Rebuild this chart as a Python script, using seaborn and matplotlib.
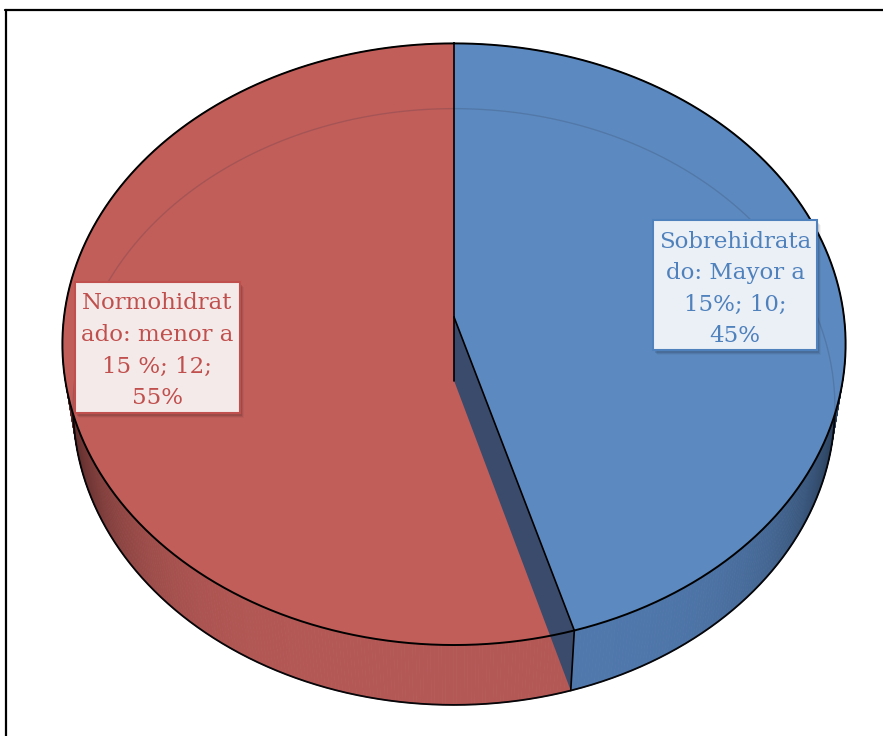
import numpy as np
import matplotlib
matplotlib.use("Agg")
import matplotlib.pyplot as plt
import seaborn as sns
from matplotlib.patches import Polygon, Rectangle

# ---------------- data ----------------
categories = ["Sobrehidratado: Mayor a 15%", "Normohidratado: menor a 15 %"]
counts = [10, 12]
percents = ["45%", "55%"]
label_lines = [
    ["Sobrehidrata", "do: Mayor a", "15%; 10;", "45%"],
    ["Normohidrat", "ado: menor a", "15 %; 12;", "55%"],
]

# ---------------- style ----------------
sns.set_theme(style="white")
plt.rcParams["font.family"] = ["DejaVu Serif", "DejaVu Sans"]

top_colors = ["#5C8AC0", "#C15E5A"]
rim_colors = [np.array([80, 120, 172]) / 255, np.array([180, 88, 85]) / 255]
text_colors = ["#4F81BD", "#C0504D"]
box_fill = ["#EBF0F6", "#F5EAEA"]
wall_color = "#3A4B6C"

# ---------------- projection (3D tilted pie with perspective) ----------------
CX, CY = 454.0, 317.0
SCALE = 390.0
SA = 0.765
CA = np.sqrt(1 - SA ** 2)
DIST = 7.12
DEPTH = 0.26


def proj(theta_deg, hgt=0.0, r=1.0):
    t = np.radians(np.asarray(theta_deg, dtype=float))
    X = r * np.sin(t)
    W = -r * np.cos(t)
    yc = W * SA - hgt * CA
    zc = W * CA + hgt * SA
    s = DIST / (DIST - zc)
    return CX + SCALE * s * X, CY + SCALE * s * yc


fig = plt.figure(figsize=(8.83, 7.36), dpi=100)
ax = fig.add_axes([0, 0, 1, 1])
ax.set_xlim(0, 883)
ax.set_ylim(736, 0)
ax.axis("off")

# frame
ax.plot([5, 883], [10, 10], color="black", lw=1.6, zorder=1)
ax.plot([6, 6], [10, 736], color="black", lw=1.6, zorder=1)

total = sum(counts)
angles = np.cumsum([0] + counts) / total * 360.0
starts, ends = angles[:-1], angles[1:]

# ---- rim (side walls) ----
for i in range(len(counts)):
    th = np.linspace(starts[i], ends[i], int((ends[i] - starts[i]) * 2) + 2)
    for a0, a1 in zip(th[:-1], th[1:]):
        xt0, yt0 = proj(a0, 0)
        xt1, yt1 = proj(a1, 0)
        xb0, yb0 = proj(a0, -DEPTH)
        xb1, yb1 = proj(a1, -DEPTH)
        am = np.radians((a0 + a1) / 2)
        X = abs(np.sin(am))
        f = 1 - 0.55 * X ** 5
        c = np.clip(rim_colors[i] * f, 0, 1)
        ax.add_patch(Polygon([(xt0, yt0), (xt1, yt1), (xb1, yb1), (xb0, yb0)],
                             closed=True, facecolor=c, edgecolor=c, lw=0.6, zorder=2))

# bottom outline
thb = np.linspace(0, 360, 721)
xb, yb = proj(thb, -DEPTH)
ax.plot(xb, yb, color="black", lw=1.3, zorder=3)

# ---- top faces ----
for i in range(len(counts)):
    th = np.linspace(starts[i], ends[i], 400)
    xs, ys = proj(th, 0)
    pts = [(CX, CY)] + list(zip(xs, ys))
    ax.add_patch(Polygon(pts, closed=True, facecolor=top_colors[i],
                         edgecolor=top_colors[i], lw=0.5, zorder=4))

# faint see-through bottom edge
ax.plot(xb, yb, color="#2A2A40", lw=1.0, alpha=0.18, zorder=5)

# ---- exposed end wall of first slice (drawn on top) ----
a = ends[0]
xo, yo = proj(a, 0)
xob, yob = proj(a, -DEPTH)
xcb, ycb = proj(0, -DEPTH, r=0.0)
ax.add_patch(Polygon([(CX, CY), (xo, yo), (xob, yob), (xcb, ycb)], closed=True,
                     facecolor=wall_color, edgecolor="none", zorder=6))
ax.plot([CX, xo, xob], [CY, yo, yob], color="black", lw=1.2, zorder=7)
ax.plot([CX, xcb], [CY, ycb], color="black", lw=1.2, zorder=7)

# top outline and radial line at 0
tht = np.linspace(0, 360, 721)
xt, yt = proj(tht, 0)
ax.plot(xt, yt, color="black", lw=1.4, zorder=7)
x0, y0 = proj(0, 0)
ax.plot([CX, x0], [CY, y0], color="black", lw=1.2, zorder=7)

# ---- label boxes ----
boxes = [(653, 220, 164, 130), (75, 282, 165, 131)]
line_y = [[242, 273, 305, 336], [303, 335, 367, 398]]
for i in range(len(counts)):
    bx, by, bw, bh = boxes[i]
    for k, al in enumerate([0.10, 0.07, 0.04]):
        ax.add_patch(Rectangle((bx + 2 + k, by + 3 + k), bw, bh, facecolor="black",
                               edgecolor="none", alpha=al, zorder=8))
    ax.add_patch(Rectangle((bx, by), bw, bh, facecolor=box_fill[i],
                           edgecolor=text_colors[i], lw=1.5, zorder=9))
    for ln, yy in zip(label_lines[i], line_y[i]):
        ax.text(bx + bw / 2, yy, ln, ha="center", va="center", fontsize=16.5,
                color=text_colors[i], zorder=10)

fig.savefig("out.png", dpi=100)
